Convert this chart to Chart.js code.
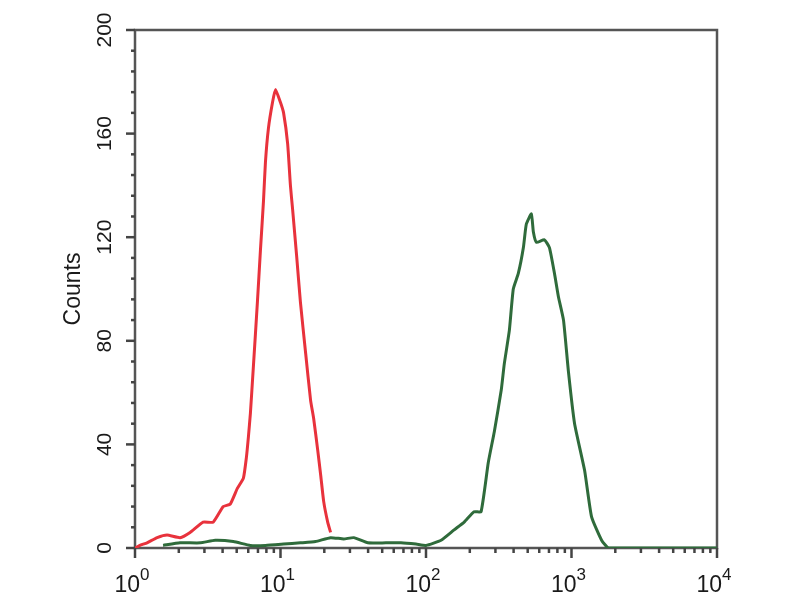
<!DOCTYPE html>
<html><head><meta charset="utf-8">
<script src="https://cdn.jsdelivr.net/npm/chart.js@4.4.0/dist/chart.umd.min.js"></script>
<style>html,body{margin:0;padding:0;background:#fff}#wrap{width:800px;height:600px;position:relative}</style>
</head><body><div id="wrap"><canvas id="c"></canvas></div>
<script>
// Red histogram (control)
const redX = [1.00,1.08,1.21,1.42,1.66,2.04,2.39,2.94,3.45,4.04,4.52,5.05,5.56,5.83,6.02,6.21,6.51,6.94,7.28,7.64,7.88,8.26,8.81,9.24,10.0,10.5,11.2,11.7,12.1,12.9,13.7,14.9,16.1,16.9,18.0,18.9,19.8,21.1,22.1];
const redY = [0,1,2,4,5,4,6,10,10,16,17,23,27,35,43,52,70,95,115,134,149,162,172,177,172,168,156,140,131,113,95,75,57,50,38,28,18,10,6];
// Green histogram (stained)
const greenX = [1.56,2.04,2.81,3.56,4.74,6.21,7.88,10.5,13.7,17.4,22.1,27.2,31.9,39.8,53.0,67.3,85.3,100,127,156,183,214,239,268,295,329,345,374,398,431,467,489,530,547,574,651,705,764,813,881,953,1050,1230,1374,1610,1800,3550,10000];
const greenY = [1,2,2,3,2.5,1,1,1.5,2,2.5,4,3.5,4,2,2,2,1.5,1,3,7,10,14,14,33,45,61,71,84,100,106,116,125,129,122,118,119,116,106,97,88,68,48,30,12,3,0,0,0];
// Axis tick labels
const yTickValues = [0,40,80,120,160,200];
const yMinorStep = 8;
const xDecadeExponents = [0,1,2,3,4];
const xTickBase = '10';
const yTitle = 'Counts';

const toPoints = (xs, ys) => xs.map((x, i) => ({x: x, y: ys[i]}));

const framePlugin = {
  id: 'frame',
  beforeDatasetsDraw(chart) {
    const {ctx, chartArea: a} = chart;
    ctx.save();
    ctx.strokeStyle = '#555';
    ctx.lineWidth = 2.5;
    ctx.strokeRect(a.left, a.top, a.right - a.left, a.bottom - a.top);
    ctx.restore();
  },
  afterDraw(chart) {
    const {ctx, chartArea: a, scales} = chart;
    const xs = scales.x, ys = scales.y;
    ctx.save();
    ctx.strokeStyle = '#444';
    ctx.lineWidth = 2.5;
    ys.ticks.forEach(t => {
      const p = ys.getPixelForValue(t.value);
      const len = yTickValues.includes(t.value) ? 9 : 4;
      ctx.beginPath(); ctx.moveTo(a.left - len, p); ctx.lineTo(a.left, p); ctx.stroke();
    });
    xs.ticks.forEach(t => {
      const p = xs.getPixelForValue(t.value);
      const e = Math.log10(t.value);
      const len = Math.abs(e - Math.round(e)) < 1e-9 ? 10 : 5;
      ctx.beginPath(); ctx.moveTo(p, a.bottom); ctx.lineTo(p, a.bottom + len); ctx.stroke();
    });
    // decade labels 10^n
    ctx.fillStyle = '#1a1a1a';
    ctx.textBaseline = 'alphabetic';
    ctx.textAlign = 'left';
    const baseFont = '23px "Liberation Sans", Arial, sans-serif';
    const expFont = '17px "Liberation Sans", Arial, sans-serif';
    xDecadeExponents.forEach(n => {
      const p = xs.getPixelForValue(Math.pow(10, n));
      const es = String(n);
      ctx.font = baseFont; const wb = ctx.measureText(xTickBase).width;
      ctx.font = expFont; const we = ctx.measureText(es).width;
      const start = p - 3 - (wb + we) / 2;
      ctx.font = baseFont; ctx.fillText(xTickBase, start, a.bottom + 44);
      ctx.font = expFont; ctx.fillText(es, start + wb, a.bottom + 32);
    });
    ctx.restore();
  }
};

new Chart(document.getElementById('c'), {
  type: 'line',
  data: {
    datasets: [
      {label: 'Control', data: toPoints(redX, redY), borderColor: '#e8323c', borderWidth: 3, pointRadius: 0, tension: 0.15, fill: false},
      {label: 'Stained', data: toPoints(greenX, greenY), borderColor: '#2f6b3b', borderWidth: 3, pointRadius: 0, tension: 0.15, fill: false}
    ]
  },
  options: {
    responsive: true,
    maintainAspectRatio: false,
    animation: false,
    devicePixelRatio: 1,
    layout: {padding: {left: 0, right: 83, top: 30, bottom: 0}},
    plugins: {legend: {display: false}, tooltip: {enabled: false}},
    scales: {
      x: {
        type: 'logarithmic',
        min: 1, max: 10000,
        grid: {display: false, drawTicks: false},
        border: {display: false},
        ticks: {display: false},
        afterBuildTicks(scale) {
          const t = [];
          for (let d = 0; d < 4; d++) for (let m = 1; m < 10; m++) t.push({value: m * Math.pow(10, d)});
          t.push({value: 10000});
          scale.ticks = t;
        },
        afterFit(scale) { scale.height = 52; }
      },
      y: {
        type: 'linear',
        min: 0, max: 200,
        grid: {display: false, drawTicks: false},
        border: {display: false},
        afterBuildTicks(scale) {
          const t = [];
          for (let v = 0; v <= 200; v += yMinorStep) t.push({value: v});
          scale.ticks = t;
        },
        ticks: {
          autoSkip: false,
          minRotation: 90, maxRotation: 90,
          crossAlign: 'center',
          padding: 12,
          color: '#1a1a1a',
          font: {family: '"Liberation Sans", Arial, sans-serif', size: 21},
          callback: v => yTickValues.includes(v) ? String(v) : ''
        },
        title: {
          display: true, text: yTitle, color: '#1a1a1a',
          font: {family: '"Liberation Sans", Arial, sans-serif', size: 23},
          padding: {top: 60, bottom: 0}
        },
        afterFit(scale) { scale.width = 135; }
      }
    }
  },
  plugins: [framePlugin]
});
</script>
</body></html>
